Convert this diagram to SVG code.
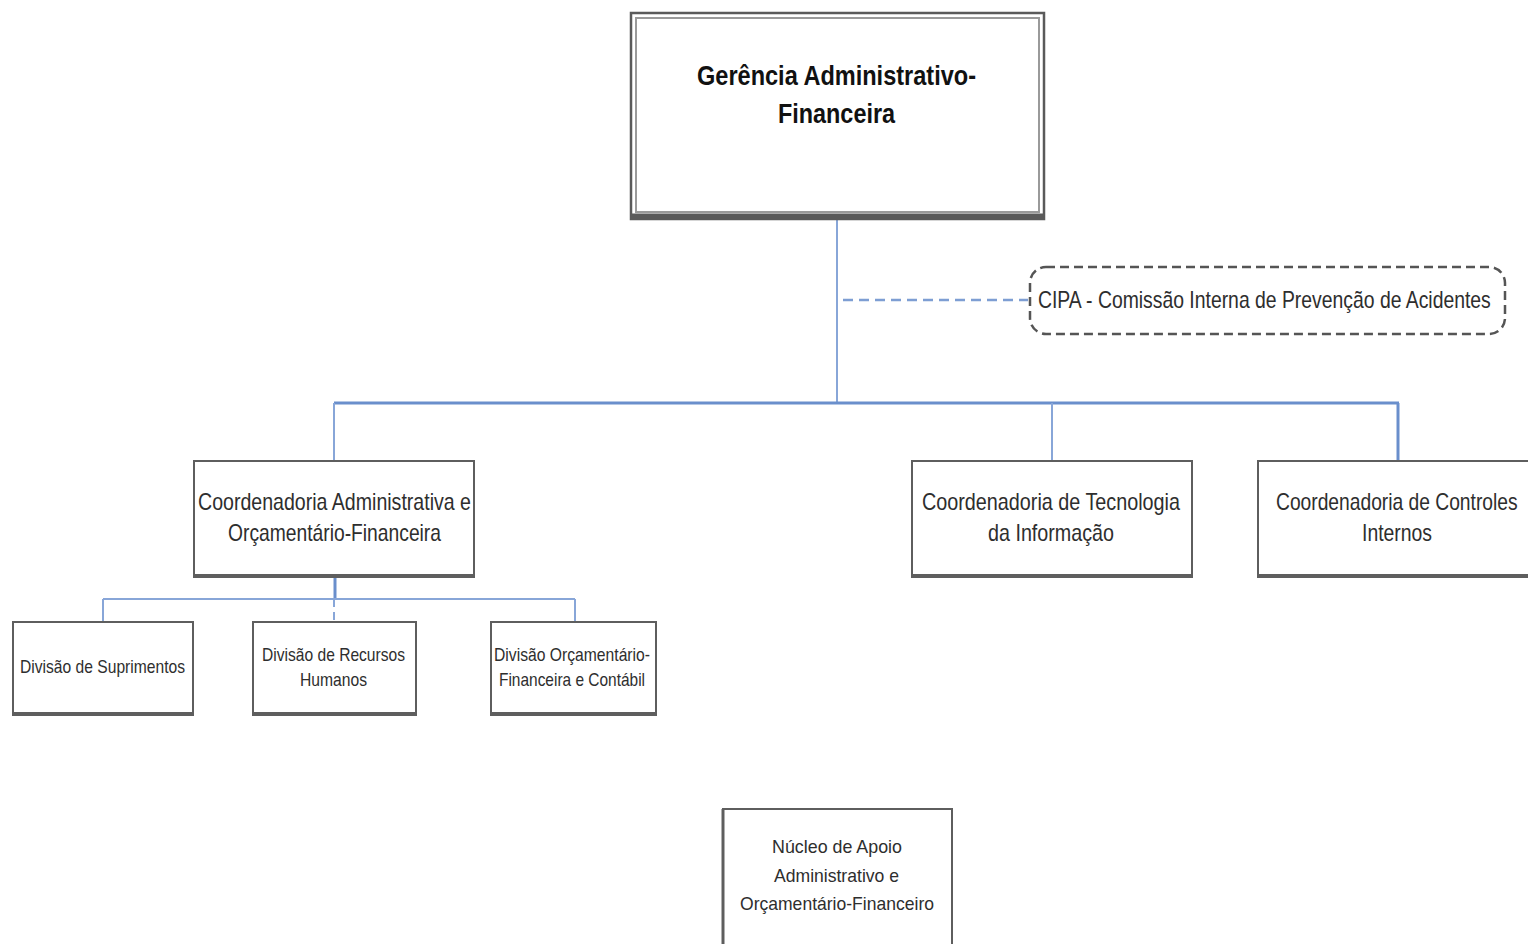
<svg xmlns="http://www.w3.org/2000/svg" width="1528" height="944" viewBox="0 0 1528 944">
  <style>
    .box { fill: #ffffff; stroke: #5e5e5e; stroke-width: 2; }
    .base { stroke: #5e5e5e; stroke-width: 4; }
    .lbl { font-family: "Liberation Sans", Arial, sans-serif; fill: #2e2e2e; text-anchor: start; }
    .big { font-size: 27px; font-weight: bold; fill: #111; }
    .mid { font-size: 24px; }
    .sm { font-size: 19px; }
    .link { fill: none; stroke: #6a8fcc; stroke-width: 3; }
    .thin { fill: none; stroke: #88a6d8; stroke-width: 2; }
    .dash { fill: none; stroke: #7e9ed3; stroke-width: 2.5; stroke-dasharray: 10 6; }
  </style>
  <rect width="1528" height="944" fill="#ffffff"/>

  <g id="connectors">
    <line class="thin" x1="837" y1="220" x2="837" y2="403"/>
    <line class="dash" x1="843" y1="300" x2="1028" y2="300"/>
    <line class="link" x1="334" y1="403" x2="1399" y2="403"/>
    <line class="thin" x1="334" y1="403" x2="334" y2="461"/>
    <line class="thin" x1="1052" y1="403" x2="1052" y2="461"/>
    <line class="link" x1="1398" y1="403" x2="1398" y2="461"/>
    <line class="link" x1="335" y1="578" x2="335" y2="599"/>
    <line class="thin" x1="103" y1="599" x2="575" y2="599"/>
    <line class="thin" x1="103" y1="599" x2="103" y2="622"/>
    <line class="thin" x1="334" y1="599" x2="334" y2="622" stroke-dasharray="8 5"/>
    <line class="thin" x1="575" y1="599" x2="575" y2="622"/>
  </g>

  <g id="gerencia">
    <rect x="631" y="13" width="413" height="206" fill="#ffffff" stroke="#5a5a5a" stroke-width="2.5"/>
    <rect x="636" y="18" width="403" height="194" fill="#ffffff" stroke="#9a9a9a" stroke-width="2"/>
    <line x1="631" y1="216" x2="1044" y2="216" stroke="#5a5a5a" stroke-width="5"/>
    <text class="lbl big" x="697" y="85" textLength="279" lengthAdjust="spacingAndGlyphs">Gerência Administrativo-</text>
    <text class="lbl big" x="778" y="123" textLength="117" lengthAdjust="spacingAndGlyphs">Financeira</text>
  </g>

  <g id="cipa">
    <rect x="1030" y="267" width="475" height="67" rx="16" ry="16" fill="#ffffff" stroke="#555555" stroke-width="2.5" stroke-dasharray="9 5"/>
    <!-- horizontally condensed label -->
    <text class="lbl mid" transform="translate(1038,308) scale(0.8,1)" textLength="566" lengthAdjust="spacingAndGlyphs">CIPA - Comissão Interna de Prevenção de Acidentes</text>
  </g>

  <g id="coord-admin">
    <rect class="box" x="194" y="461" width="280" height="116"/>
    <line class="base" x1="194" y1="576" x2="474" y2="576"/>
    <text class="lbl mid" x="198" y="510" textLength="273" lengthAdjust="spacingAndGlyphs">Coordenadoria Administrativa e</text>
    <text class="lbl mid" x="228" y="541" textLength="213" lengthAdjust="spacingAndGlyphs">Orçamentário-Financeira</text>
  </g>

  <g id="coord-ti">
    <rect class="box" x="912" y="461" width="280" height="116"/>
    <line class="base" x1="912" y1="576" x2="1192" y2="576"/>
    <text class="lbl mid" x="922" y="510" textLength="258" lengthAdjust="spacingAndGlyphs">Coordenadoria de Tecnologia</text>
    <text class="lbl mid" x="988" y="541" textLength="126" lengthAdjust="spacingAndGlyphs">da Informação</text>
  </g>

  <g id="coord-controles">
    <rect class="box" x="1258" y="461" width="280" height="116"/>
    <line class="base" x1="1258" y1="576" x2="1538" y2="576"/>
    <!-- horizontally condensed label -->
    <text class="lbl mid" transform="translate(1276,510) scale(0.8,1)" textLength="302" lengthAdjust="spacingAndGlyphs">Coordenadoria de Controles</text>
    <text class="lbl mid" x="1362" y="541" textLength="70" lengthAdjust="spacingAndGlyphs">Internos</text>
  </g>

  <g id="div-suprimentos">
    <rect class="box" x="13" y="622" width="180" height="93"/>
    <line class="base" x1="13" y1="714" x2="193" y2="714"/>
    <text class="lbl sm" x="20" y="673" textLength="165" lengthAdjust="spacingAndGlyphs">Divisão de Suprimentos</text>
  </g>

  <g id="div-rh">
    <rect class="box" x="253" y="622" width="163" height="93"/>
    <line class="base" x1="253" y1="714" x2="416" y2="714"/>
    <text class="lbl sm" x="262" y="661" textLength="143" lengthAdjust="spacingAndGlyphs">Divisão de Recursos</text>
    <text class="lbl sm" x="300" y="686" textLength="67" lengthAdjust="spacingAndGlyphs">Humanos</text>
  </g>

  <g id="div-orcamentaria">
    <rect class="box" x="491" y="622" width="165" height="93"/>
    <line class="base" x1="491" y1="714" x2="656" y2="714"/>
    <text class="lbl sm" x="494" y="661" textLength="156" lengthAdjust="spacingAndGlyphs">Divisão Orçamentário-</text>
    <text class="lbl sm" x="499" y="686" textLength="146" lengthAdjust="spacingAndGlyphs">Financeira e Contábil</text>
  </g>

  <g id="nucleo">
    <rect class="box" x="723" y="809" width="229" height="150"/>
    <line x1="723" y1="809" x2="723" y2="944" stroke="#5e5e5e" stroke-width="3"/>
    <text class="lbl sm" x="772" y="853" textLength="130" lengthAdjust="spacingAndGlyphs">Núcleo de Apoio</text>
    <text class="lbl sm" x="774" y="882" textLength="125" lengthAdjust="spacingAndGlyphs">Administrativo e</text>
    <text class="lbl sm" x="740" y="910" textLength="194" lengthAdjust="spacingAndGlyphs">Orçamentário-Financeiro</text>
  </g>
</svg>
